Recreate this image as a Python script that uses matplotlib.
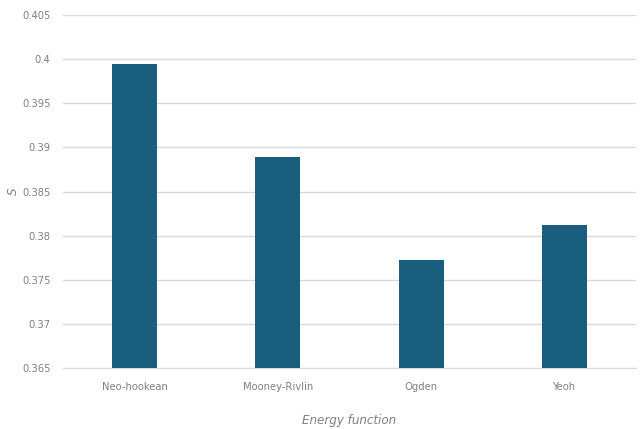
import matplotlib.pyplot as plt
from matplotlib import font_manager

modelos = ['Neo-hookean', 'Mooney-Rivlin', 'Ogden', 'Yeoh']
valores_s = [0.3995, 0.3889, 0.3772, 0.3812]
ticks_y = [0.365, 0.37, 0.375, 0.38, 0.385, 0.39, 0.395, 0.4, 0.405]
rotulos_y = ['0.365', '0.37', '0.375', '0.38', '0.385', '0.39', '0.395', '0.4', '0.405']

# fonte estreita, se existir
nomes = {f.name for f in font_manager.fontManager.ttflist}
estreita = [n for n in ['Liberation Sans Narrow', 'DejaVu Sans Condensed'] if n in nomes]
fonte = estreita[0] if estreita else 'DejaVu Sans'
plt.rcParams['font.family'] = [fonte, 'DejaVu Sans']
plt.rcParams['font.stretch'] = 'condensed'

cinza = '#808080'
fig = plt.figure(figsize=(6.43, 4.29), dpi=100)
ax = fig.add_axes([0.098, 0.142, 0.891, 0.823])

x = range(len(modelos))
ax.bar(x, valores_s, width=0.315, color='#195e7d', zorder=3)

ax.set_ylim(0.365, 0.405)
ax.set_xlim(-0.5, len(modelos) - 0.5)
ax.set_yticks(ticks_y)
ax.set_yticklabels(rotulos_y)
ax.set_xticks(list(x))
ax.set_xticklabels(modelos)
ax.tick_params(axis='both', length=0, labelsize=8, colors=cinza)
ax.tick_params(axis='x', pad=10)
ax.tick_params(axis='y', pad=9)

ax.grid(axis='y', color='#d9d9d9', linewidth=1, zorder=0)
for lado in ['top', 'right', 'left']:
    ax.spines[lado].set_visible(False)
ax.spines['bottom'].set_color('#d9d9d9')

ax.set_xlabel('Energy function', style='italic', color=cinza, fontsize=9.5)
ax.xaxis.set_label_coords(0.5, -0.13)
ax.set_ylabel('S', style='italic', color=cinza, fontsize=9.5)
ax.yaxis.set_label_coords(-0.075, 0.5)

fig.savefig('out.png', dpi=100)
